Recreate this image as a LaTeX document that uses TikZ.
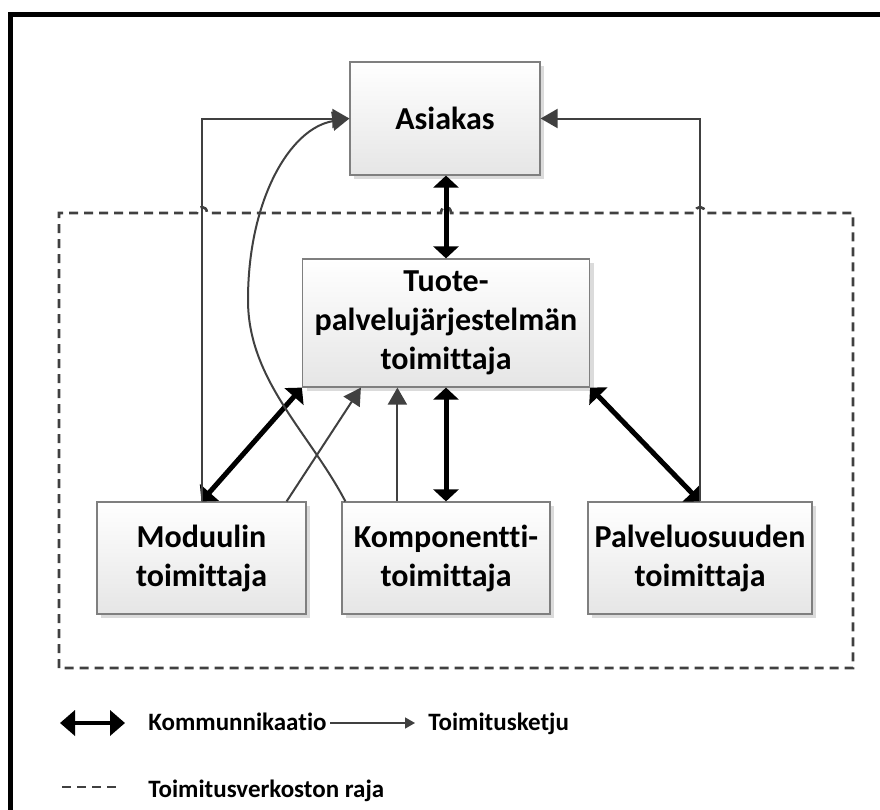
\documentclass[tikz,border=0pt]{standalone}
\usepackage{fontspec}
\setmainfont{Carlito}[Ligatures=NoCommon]
\usetikzlibrary{arrows.meta,shadows,calc}
\definecolor{linegray}{HTML}{404040}
\definecolor{boxedge}{HTML}{7F7F7F}
\begin{document}
\begin{tikzpicture}[x=0.5pt,y=-0.5pt,
  box/.style={draw=boxedge, line width=0.6pt, top color=white, bottom color=black!10,
    drop shadow={shadow xshift=2pt, shadow yshift=-2pt, fill=black!14, opacity=1},
    font=\fontsize{16}{19.5}\selectfont\bfseries, align=center, inner sep=0pt},
  comm/.style={line width=2.5pt, black,
    {Triangle[length=6pt,width=12.5pt]}-{Triangle[length=6pt,width=12.5pt]}},
  supply/.style={line width=1pt, linegray, -{Triangle[length=8.5pt,width=9.5pt]}},
  border/.style={linegray, line width=1.3pt, dash pattern=on 4.5pt off 3pt},
  legcomm/.style={line width=2pt, black,
    {Triangle[length=7.5pt,width=12.5pt]}-{Triangle[length=7.5pt,width=12.5pt]}},
  legsupply/.style={line width=0.7pt, linegray, -{Triangle[length=5pt,width=5.5pt]}},
  legtext/.style={font=\fontsize{12.5}{15}\selectfont\bfseries, inner sep=0pt, anchor=base west},
]
\useasboundingbox (0,0) rectangle (880,810);
\clip (0,0) rectangle (880,810);

% outer frame
\draw[line width=2.5pt] (10.8,840) |- (900,14.2);

% boundary of the supply network, with hops where lines cross it
\draw[border] (59,668) -- (59,213) -- (197,213)
  .. controls (197,205) and (207,205) .. (207,213) -- (441,213)
  .. controls (441,205) and (451,205) .. (451,213) -- (695,213)
  .. controls (695,205) and (705,205) .. (705,213) -- (853,213) -- (853,668) -- cycle;

% actors
\node[box, minimum width=95pt, minimum height=56.5pt] (asiakas) at (445,118.5) {Asiakas};
\node[box, minimum width=143.5pt, minimum height=64pt] (tuote) at (446,323)
  {Tuote-\\palvelujärjestelmän\\toimittaja};
\node[box, minimum width=104.5pt, minimum height=56pt] (moduuli) at (201.5,558)
  {Moduulin\\toimittaja};
\node[box, minimum width=104pt, minimum height=56pt] (komp) at (446,558)
  {Komponentti-\\toimittaja};
\node[box, minimum width=112pt, minimum height=56pt] (palvelu) at (700,558)
  {Palveluosuuden\\toimittaja};

% communication
\draw[comm] ([xshift=0.5pt]asiakas.south) -- (tuote.north);
\draw[comm] (tuote.south) -- (komp.north);
\draw[comm] (tuote.south west) -- (moduuli.north);
\draw[comm] (tuote.south east) -- (palvelu.north);

% supply chain
\draw[supply] (moduuli.north) |- (asiakas.west);
\draw[supply] (palvelu.north) |- (asiakas.east);
\draw[supply] ([xshift=-10pt]moduuli.north east) -- ([xshift=29.5pt]tuote.south west);
\coordinate (k1) at ([xshift=28pt]komp.north west);
\draw[supply] (k1) -- (k1 |- tuote.south);
\draw[supply] ([xshift=2pt]komp.north west)
  .. controls (309,432) and (248,380) .. (248,300)
  .. controls (248,200) and (290,128) .. (asiakas.west);

% legend
\coordinate (la) at (60,723);
\coordinate (lb) at (125,723);
\draw[legcomm] (la) -- (lb);
\node[legtext] (lt1) at (148,730) {Kommunnikaatio};
\coordinate (lc) at (330,723);
\coordinate (ld) at (415,723);
\draw[legsupply] (lc) -- (ld);
\node[legtext] (lt2) at (428,730) {Toimitusketju};
\coordinate (le) at (62,787);
\coordinate (lf) at (118,787);
\draw[border] (le) -- (lf);
\node[legtext] (lt3) at (148,797) {Toimitusverkoston raja};
\end{tikzpicture}
\end{document}
